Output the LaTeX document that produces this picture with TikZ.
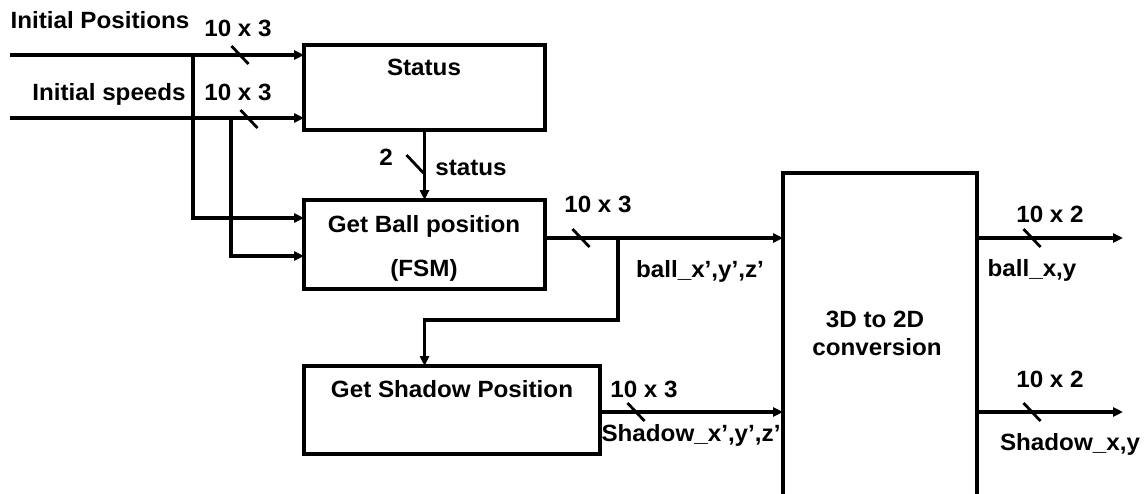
\documentclass[tikz,border=0pt]{standalone}
\usepackage{fontspec}
\setmainfont{Liberation Sans}[FakeStretch=1.03]
\usetikzlibrary{arrows.meta,calc}
\tikzset{
  blk/.style={draw, line width=3.2pt, inner sep=0pt, outer sep=0pt},
  frame/.style={inner sep=0pt, outer sep=0pt},
  wire/.style={line width=3.2pt},
  arr/.style={line width=3.2pt, -{Triangle[length=10pt,width=9pt]}},
  tick/.style={line width=2.8pt},
  lbl/.style={font=\fontsize{23.5}{28}\selectfont\bfseries, inner sep=0pt, anchor=base},
}
\begin{document}
\begin{tikzpicture}[x=1pt,y=-1pt]
\useasboundingbox (0,0) rectangle (1145,493);
% blocks
\node[blk, minimum width=241pt, minimum height=85pt] (status) at (424.5,87.5) {};
\node[blk, minimum width=241pt, minimum height=89pt] (ball) at (424.5,244.5) {};
\node[blk, minimum width=296pt, minimum height=88pt] (shadow) at (452,410) {};
\node[frame, minimum width=194pt, minimum height=330pt] (conv) at (880,338) {};
\draw[wire] (conv.south west) |- (conv.north east) -- (conv.south east);
% block texts
\node[lbl] (tstatus) at (424,75) {Status};
\node[lbl] (tball1) at (424,232) {Get Ball position};
\node[lbl] (tball2) at (424,276) {(FSM)};
\node[lbl] (tshadow) at (452,397) {Get Shadow Position};
\node[lbl] (tconv1) at (875,327) {3D to 2D};
\node[lbl] (tconv2) at (877,355) {conversion};
% coordinates
\coordinate (ip) at (10,55);
\coordinate (is) at (10,118);
\coordinate (j1) at (193,55);
\coordinate (j2) at (231,118);
\coordinate (j3) at (618,238);
\coordinate (o1) at (1123,238);
\coordinate (o2) at (1123,412);
% inputs
\draw[arr] (ip) -- (ip -| status.west);
\draw[arr] (is) -- (is -| status.west);
\draw[arr] (j1) |- ($(ball.west)+(0,-26.5)$);
\draw[arr] (j2) |- ($(ball.west)+(0,11.5)$);
\draw[arr] (status.south) -- (ball.north);
% ball output
\draw[arr] (ball.east |- j3) -- (j3 -| conv.west);
\draw[arr] (j3) -- ++(0,82) -| (shadow.north -| ball.south);
\draw[arr] (shadow.east |- o2) -- (o2 -| conv.west);
% outputs
\draw[arr] (conv.east |- o1) -- (o1);
\draw[arr] (conv.east |- o2) -- (o2);
% bus ticks
\foreach \cx/\cy in {240/55, 249/119, 415/164, 581/238, 636/412, 1032/238, 1032/412}
  \draw[tick] (\cx-8.5,\cy-9) -- (\cx+8.5,\cy+9);
% labels
\node[lbl] (lip) at (100,28) {Initial Positions};
\node[lbl] (lip3) at (238,36) {10 x 3};
\node[lbl] (lis) at (109,100) {Initial speeds};
\node[lbl] (lis3) at (238,100) {10 x 3};
\node[lbl] (l2) at (386,165) {2};
\node[lbl] (lst) at (471,175) {status};
\node[lbl] (lb3) at (598,212) {10 x 3};
\node[lbl] (lbxyz) at (700,277) {ball\_x’,y’,z’};
\node[lbl] (ls3) at (644,397) {10 x 3};
\node[lbl] (lsxyz) at (691,441) {Shadow\_x’,y’,z’};
\node[lbl] (lo1) at (1050,222) {10 x 2};
\node[lbl] (lo1b) at (1032,276) {ball\_x,y};
\node[lbl] (lo2) at (1050,387) {10 x 2};
\node[lbl] (lo2b) at (1070,450) {Shadow\_x,y};
\end{tikzpicture}
\end{document}
